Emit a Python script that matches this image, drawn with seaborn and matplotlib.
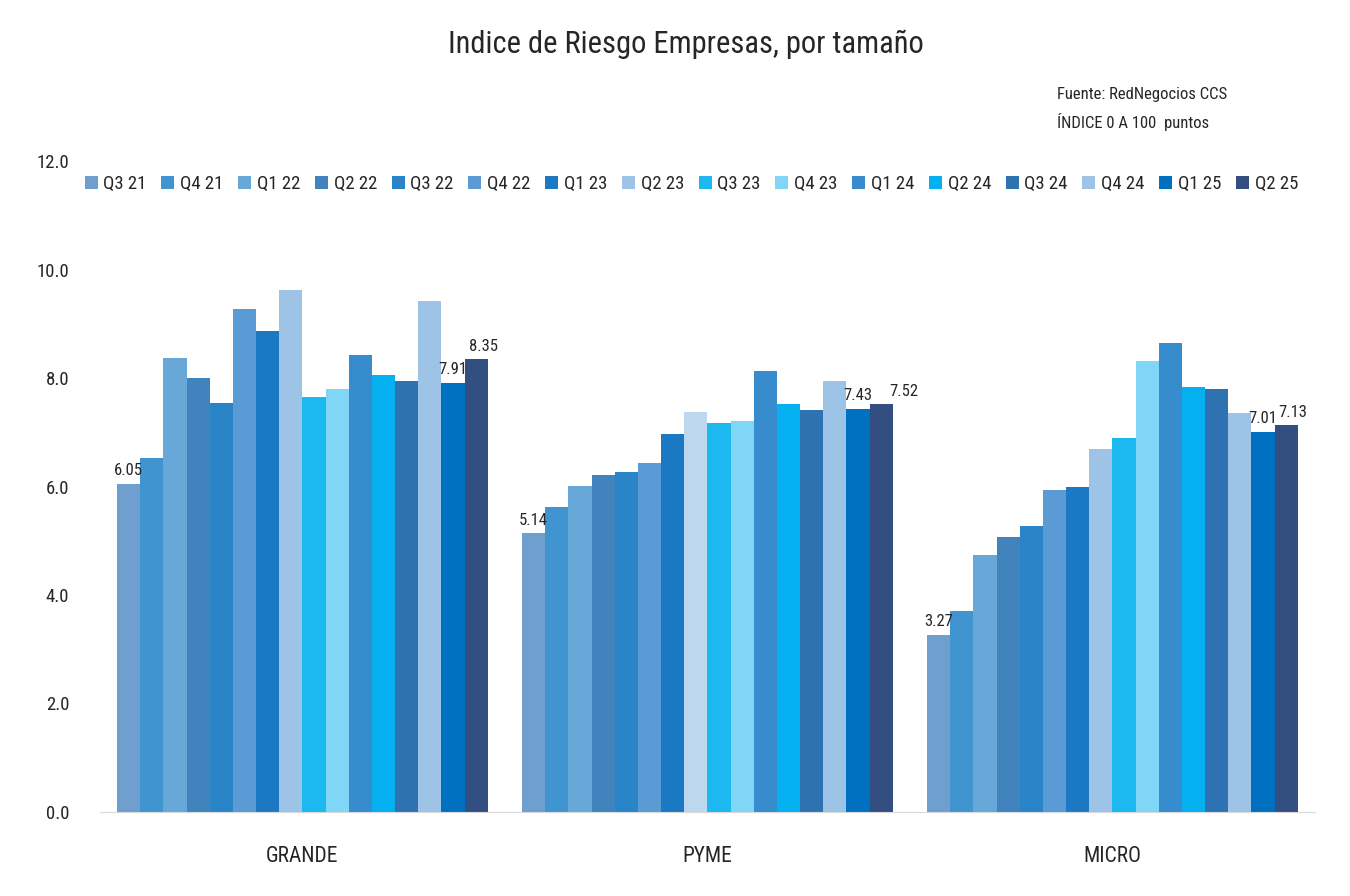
import matplotlib
matplotlib.use("Agg")
import matplotlib.pyplot as plt
from matplotlib import font_manager
import seaborn as sns
import pandas as pd

# Data
tamanos = ["GRANDE", "PYME", "MICRO"]
trimestres = ["Q3 21", "Q4 21", "Q1 22", "Q2 22", "Q3 22", "Q4 22", "Q1 23", "Q2 23",
              "Q3 23", "Q4 23", "Q1 24", "Q2 24", "Q3 24", "Q4 24", "Q1 25", "Q2 25"]
grande = [6.05, 6.53, 8.38, 8.01, 7.55, 9.28, 8.86, 9.63, 7.66, 7.79, 8.43, 8.06, 7.95, 9.42, 7.91, 8.35]
pyme = [5.14, 5.63, 6.01, 6.21, 6.27, 6.43, 6.97, 7.37, 7.18, 7.21, 8.14, 7.53, 7.42, 7.94, 7.43, 7.52]
micro = [3.27, 3.71, 4.74, 5.07, 5.28, 5.93, 6.00, 6.70, 6.90, 8.32, 8.64, 7.84, 7.79, 7.36, 7.01, 7.13]
colores = ["#6E9FCE", "#4095D1", "#67A8D9", "#4183BC", "#2984C8", "#5B9BD5", "#1B78C2", "#9DC3E6",
           "#1BB9EF", "#7FD6F7", "#368CCC", "#04B0F0", "#2F72B2", "#9DC3E6", "#0070C0", "#334E80"]

rows = []
for tam, vals in zip(tamanos, [grande, pyme, micro]):
    for q, v in zip(trimestres, vals):
        rows.append({"tamano": tam, "trimestre": q, "valor": v})
df = pd.DataFrame(rows)

# the original uses a condensed face; take one if there is any
installed = {f.name for f in font_manager.fontManager.ttflist}
condensed = [f for f in font_manager.fontManager.ttflist
             if f.stretch in ("condensed", "semi-condensed") or "Narrow" in f.name or "Condensed" in f.name]
stretch = "normal"
family = "Roboto" if "Roboto" in installed else "DejaVu Sans"
for cand in ["Liberation Sans Narrow", "Roboto Condensed", "Open Sans Condensed", "DejaVu Sans"]:
    hit = [f for f in condensed if f.name == cand]
    if hit:
        family = cand
        stretch = hit[0].stretch
        break

sns.set_style("white")
plt.rcParams["font.family"] = [family, "DejaVu Sans"]
plt.rcParams["font.stretch"] = stretch
txt = "#262626"

fig = plt.figure(figsize=(13.5, 8.96), dpi=100)
ax = fig.add_axes([0.074, 0.094, 0.9, 0.726])

sns.barplot(data=df, x="tamano", y="valor", hue="trimestre", order=tamanos,
            hue_order=trimestres, palette=colores, saturation=1, width=0.915,
            edgecolor="none", ax=ax)

# lighter PYME Q2 23 bar, as in the original
ax.containers[7].patches[1].set_facecolor("#BDD7EE")

# data labels: first and last two quarters
dx_last = [5, 16, 5]
for i in (0, 14, 15):
    cont = ax.containers[i]
    for j, (p, v) in enumerate(zip(cont.patches, cont.datavalues)):
        dx = dx_last[j] if i == 15 else 0
        ax.annotate(f"{v:.2f}", (p.get_x() + p.get_width() / 2, v), xytext=(dx, 4),
                    textcoords="offset points", ha="center", va="bottom",
                    fontsize=12, color=txt)

ax.set_xlim(-0.5, 2.5)
ax.set_ylim(0, 12)
ax.set_yticks([0, 2, 4, 6, 8, 10, 12])
ax.set_yticklabels([f"{t:.1f}" for t in [0, 2, 4, 6, 8, 10, 12]])
ax.set_xlabel("")
ax.set_ylabel("")
ax.tick_params(axis="both", length=0, labelsize=13.5, colors=txt)
ax.tick_params(axis="x", labelsize=15.5, pad=25)
ax.tick_params(axis="y", pad=22)
sns.despine(ax=ax, left=True)
ax.spines["bottom"].set_color("#D9D9D9")

handles, labels = ax.get_legend_handles_labels()
ax.get_legend().remove()
fig.legend(handles, labels, ncol=16, loc="center", bbox_to_anchor=(0.512, 0.795),
           frameon=False, fontsize=13.5, handlelength=0.7, handleheight=0.7,
           handletextpad=0.3, columnspacing=0.78, labelcolor=txt)

fig.text(0.508, 0.95, "Indice de Riesgo Empresas, por tamaño", ha="center", va="center",
         fontsize=22, color=txt)
fig.text(0.783, 0.895, "Fuente: RedNegocios CCS", ha="left", va="center", fontsize=12, color=txt)
fig.text(0.783, 0.864, "ÍNDICE 0 A 100  puntos", ha="left", va="center", fontsize=12, color=txt)

fig.savefig("out.png", dpi=100)
